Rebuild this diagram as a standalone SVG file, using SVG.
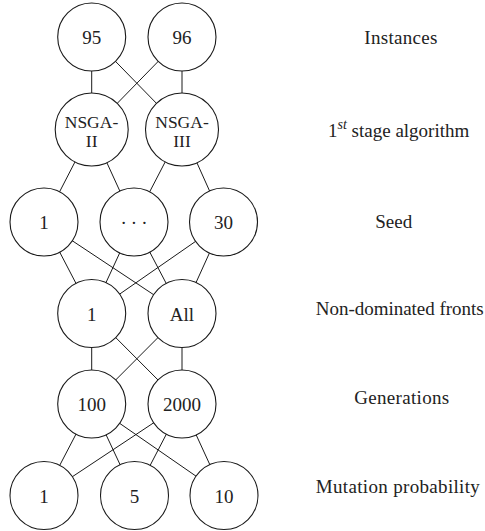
<svg xmlns="http://www.w3.org/2000/svg" width="485" height="531" viewBox="0 0 485 531">
<style>
.edge{stroke:#1a1a1a;stroke-width:1;fill:none}
.node circle{fill:#fff;stroke:#1a1a1a;stroke-width:1.1}
text{font-family:"Liberation Serif","Times New Roman",serif;font-size:19px;fill:#222}
.node text{text-anchor:middle}
.node text.two{font-size:17.5px}
.lbl{text-anchor:middle}
</style>
<rect width="485" height="531" fill="#fff"/>
<g id="connectors">
<line class="edge" x1="91.7" y1="37" x2="91.7" y2="129.5"/>
<line class="edge" x1="91.7" y1="37" x2="182" y2="129.5"/>
<line class="edge" x1="182" y1="37" x2="91.7" y2="129.5"/>
<line class="edge" x1="182" y1="37" x2="182" y2="129.5"/>
<line class="edge" x1="91.7" y1="129.5" x2="44" y2="222"/>
<line class="edge" x1="91.7" y1="129.5" x2="134" y2="222"/>
<line class="edge" x1="182" y1="129.5" x2="134" y2="222"/>
<line class="edge" x1="182" y1="129.5" x2="223.5" y2="222"/>
<line class="edge" x1="44" y1="222" x2="91.7" y2="313.5"/>
<line class="edge" x1="44" y1="222" x2="182" y2="313.5"/>
<line class="edge" x1="134" y1="222" x2="91.7" y2="313.5"/>
<line class="edge" x1="134" y1="222" x2="182" y2="313.5"/>
<line class="edge" x1="223.5" y1="222" x2="91.7" y2="313.5"/>
<line class="edge" x1="223.5" y1="222" x2="182" y2="313.5"/>
<line class="edge" x1="91.7" y1="313.5" x2="91.7" y2="404"/>
<line class="edge" x1="91.7" y1="313.5" x2="182" y2="404"/>
<line class="edge" x1="182" y1="313.5" x2="91.7" y2="404"/>
<line class="edge" x1="182" y1="313.5" x2="182" y2="404"/>
<line class="edge" x1="91.7" y1="404" x2="44" y2="495.5"/>
<line class="edge" x1="91.7" y1="404" x2="134.5" y2="495.5"/>
<line class="edge" x1="91.7" y1="404" x2="224" y2="495.5"/>
<line class="edge" x1="182" y1="404" x2="44" y2="495.5"/>
<line class="edge" x1="182" y1="404" x2="134.5" y2="495.5"/>
<line class="edge" x1="182" y1="404" x2="224" y2="495.5"/>
</g>
<g id="n95" class="node"><circle cx="91.7" cy="37" r="34"/><text x="91.7" y="44">95</text></g>
<g id="n96" class="node"><circle cx="182" cy="37" r="34"/><text x="182" y="44">96</text></g>
<g id="nsga2" class="node"><circle cx="91.7" cy="129.5" r="36.5"/><text class="two" x="91.5" y="127.5">NSGA-</text><text class="two" x="91.7" y="147">II</text></g>
<g id="nsga3" class="node"><circle cx="182" cy="129.5" r="36.5"/><text class="two" x="182" y="127.5">NSGA-</text><text class="two" x="182" y="147">III</text></g>
<g id="seed1" class="node"><circle cx="44" cy="222" r="34"/><text x="44" y="229">1</text></g>
<g id="seeddots" class="node"><circle cx="134" cy="222" r="34"/><text x="136" y="229" style="letter-spacing:4px">···</text></g>
<g id="seed30" class="node"><circle cx="223.5" cy="222" r="34"/><text x="223.5" y="229">30</text></g>
<g id="front1" class="node"><circle cx="91.7" cy="313.5" r="34"/><text x="91.7" y="320.5">1</text></g>
<g id="frontall" class="node"><circle cx="182" cy="313.5" r="34"/><text x="182" y="320.5">All</text></g>
<g id="gen100" class="node"><circle cx="91.7" cy="404" r="34"/><text x="91.7" y="411">100</text></g>
<g id="gen2000" class="node"><circle cx="182" cy="404" r="34"/><text x="182" y="411">2000</text></g>
<g id="mut1" class="node"><circle cx="44" cy="495.5" r="34"/><text x="44" y="502.5">1</text></g>
<g id="mut5" class="node"><circle cx="134.5" cy="495.5" r="34"/><text x="134.5" y="502.5">5</text></g>
<g id="mut10" class="node"><circle cx="224" cy="495.5" r="34"/><text x="224" y="502.5">10</text></g>
<g id="labels">
<text class="lbl" x="400.8" y="44" textLength="73">Instances</text>
<text x="328" y="136.7">1<tspan font-style="italic" font-size="14" dy="-8">st</tspan><tspan dy="8"> stage algorithm</tspan></text>
<text class="lbl" x="393.7" y="227.7">Seed</text>
<text x="315.7" y="315" textLength="168">Non-dominated fronts</text>
<text class="lbl" x="401.7" y="404.3" textLength="95">Generations</text>
<text class="lbl" x="397.8" y="492.7" textLength="164">Mutation probability</text>
</g>
</svg>
